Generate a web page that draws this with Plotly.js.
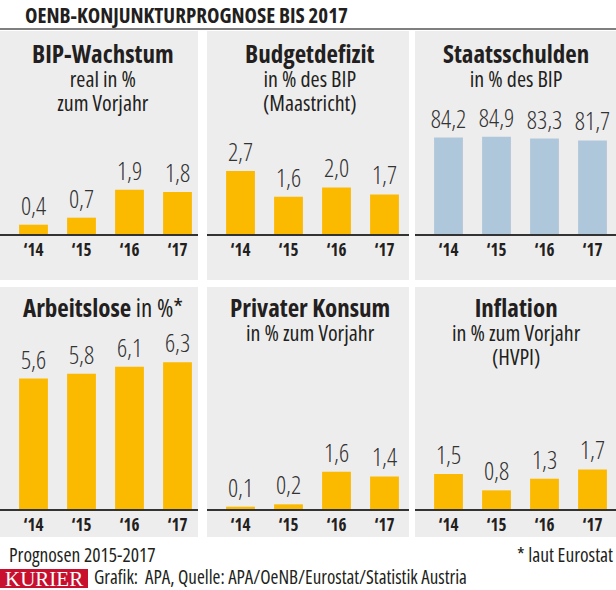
<!DOCTYPE html>
<html>
<head>
<meta charset="utf-8">
<script src="https://cdn.plot.ly/plotly-3.0.1.min.js"></script>
<style>
html,body{margin:0;padding:0;background:#fff;}
#chart{width:616px;height:590px;}
text{font-stretch:75%;}
</style>
</head>
<body>
<div id="chart"></div>
<script>
// ---- data ----
const years = ["\u201814", "\u201815", "\u201816", "\u201817"];
const bipWachstum = [0.4, 0.7, 1.9, 1.8];
const budgetdefizit = [2.7, 1.6, 2.0, 1.7];
const staatsschulden = [84.2, 84.9, 83.3, 81.7];
const arbeitslose = [5.6, 5.8, 6.1, 6.3];
const privaterKonsum = [0.1, 0.2, 1.6, 1.4];
const inflation = [1.5, 0.8, 1.3, 1.7];

const panelTitles = ["<b>BIP-Wachstum</b>", "<b>Budgetdefizit</b>", "<b>Staatsschulden</b>",
                     "<b>Arbeitslose</b> in %*", "<b>Privater Konsum</b>", "<b>Inflation</b>"];
const panelSubtitles = [["real in %", "zum Vorjahr"], ["in % des BIP", "(Maastricht)"], ["in % des BIP"],
                        [], ["in % zum Vorjahr"], ["in % zum Vorjahr", "(HVPI)"]];
const chartTitle = "OENB-KONJUNKTURPROGNOSE BIS 2017";
const footLeft = "Prognosen 2015-2017";
const footRight = "* laut Eurostat";
const logoText = "KURIER";
const sourceText = "Grafik:  APA, Quelle: APA/OeNB/Eurostat/Statistik Austria";

// ---- layout helpers ----
const W = 616, H = 590;
const fx = x => x / W;
const fy = y => 1 - y / H;
const SANS = "Open Sans, Roboto, sans-serif";
const YELLOW = "#FBB900";
const BLUE = "#AFC7DA";
const PANEL_BG = "#EEEDEE";
const INK = "#231F20";

const series = [bipWachstum, budgetdefizit, staatsschulden, arbeitslose, privaterKonsum, inflation];
const colors = [YELLOW, YELLOW, BLUE, YELLOW, YELLOW, YELLOW];
const pxPerUnit = [23.3, 23.3, 1.145, 23.3, 23.3, 23.3];
const colsX = [[0, 198], [207, 409], [415, 616]];
const rowsY = [{top: 31, bottom: 280, base: 234, titleTop: 34},
               {top: 287, bottom: 537, base: 509, titleTop: 288}];
const titleCx = [103, 310, 516];
const band = 48, firstCenter = 33.5;

const fmt = v => v.toFixed(1).replace(".", ",");

const data = [];
const layout = {
  width: W, height: H,
  margin: {l: 0, r: 0, t: 0, b: 0, pad: 0},
  paper_bgcolor: "#fff",
  plot_bgcolor: "rgba(0,0,0,0)",
  showlegend: false,
  font: {family: SANS, color: INK},
  shapes: [],
  annotations: []
};

// title & rule
layout.annotations.push({xref: "paper", yref: "paper", x: fx(187), y: fy(14.5), xanchor: "center", yanchor: "middle",
  text: chartTitle, showarrow: false, font: {family: SANS, size: 21, weight: 700, color: INK}});
layout.shapes.push({type: "line", xref: "paper", yref: "paper", x0: 0, x1: 1, y0: fy(29), y1: fy(29),
  line: {color: "#555", width: 1.5}});

for (let i = 0; i < 6; i++) {
  const c = i % 3, r = Math.floor(i / 3);
  const [L, R] = colsX[c];
  const row = rowsY[r];
  const k = i + 1;
  const xa = "xaxis" + (k === 1 ? "" : k), ya = "yaxis" + (k === 1 ? "" : k);
  const xr = "x" + (k === 1 ? "" : k), yr = "y" + (k === 1 ? "" : k);

  layout.shapes.push({type: "rect", xref: "paper", yref: "paper", layer: "below",
    x0: fx(L), x1: fx(R), y0: fy(row.bottom), y1: fy(row.top), fillcolor: PANEL_BG, line: {width: 0}});

  const xmin = -firstCenter / band;
  layout[xa] = {domain: [fx(L), fx(R)], anchor: yr, range: [xmin, xmin + (R - L) / band],
    tickvals: [0, 1, 2, 3], ticktext: years, ticks: "", showgrid: false, zeroline: false,
    showline: true, linecolor: "#333", linewidth: 2, fixedrange: true,
    tickfont: {family: SANS, size: 17, weight: 700, color: INK}};
  layout[ya] = {domain: [fy(row.base), fy(row.top)], anchor: xr,
    range: [0, (row.base - row.top) / pxPerUnit[i]], visible: false, showgrid: false, zeroline: false, fixedrange: true};

  data.push({type: "bar", x: [0, 1, 2, 3], y: series[i], xaxis: xr, yaxis: yr, width: 0.6,
    marker: {color: colors[i], line: {width: 0}},
    text: series[i].map(fmt), textposition: "outside", cliponaxis: false, constraintext: "none",
    textfont: {family: SANS, size: 25, weight: 300, color: "#333"}, hoverinfo: "skip"});

  const block = '<span style="font-size:25px">' + panelTitles[i] + '</span>' +
    panelSubtitles[i].map(s => '<br><span style="font-size:22px">' + s + '</span>').join("");
  layout.annotations.push({xref: "paper", yref: "paper", x: fx(titleCx[c]), y: fy(row.titleTop),
    xanchor: "center", yanchor: "top", text: block, showarrow: false, align: "center",
    font: {family: SANS, size: 18.5, color: INK}});
}

// footer
layout.annotations.push({xref: "paper", yref: "paper", x: fx(7), y: fy(554), xanchor: "left", yanchor: "middle",
  text: footLeft, showarrow: false, font: {family: SANS, size: 19.5, color: INK}});
layout.annotations.push({xref: "paper", yref: "paper", x: fx(615), y: fy(554), xanchor: "right", yanchor: "middle",
  text: footRight, showarrow: false, font: {family: SANS, size: 19.5, color: INK}});
layout.shapes.push({type: "rect", xref: "paper", yref: "paper", x0: 0, x1: fx(88), y0: fy(588), y1: fy(569),
  fillcolor: "#C8102E", line: {width: 0}});
layout.annotations.push({xref: "paper", yref: "paper", x: fx(44), y: fy(578.5), xanchor: "center", yanchor: "middle",
  text: logoText, showarrow: false, font: {family: "Liberation Serif, DejaVu Serif, serif", size: 21, color: "#fff"}});
layout.annotations.push({xref: "paper", yref: "paper", x: fx(92), y: fy(576.5), xanchor: "left", yanchor: "middle",
  text: sourceText, showarrow: false, font: {family: SANS, size: 19, color: INK}});

Plotly.newPlot("chart", data, layout, {staticPlot: true, displayModeBar: false}).then(() => {
  // widen the headline a little (centre-anchored, so its position is kept)
  document.querySelectorAll("#chart text").forEach(t => {
    if (t.textContent === chartTitle) t.style.fontStretch = "87.5%";
  });
});
</script>
</body>
</html>
